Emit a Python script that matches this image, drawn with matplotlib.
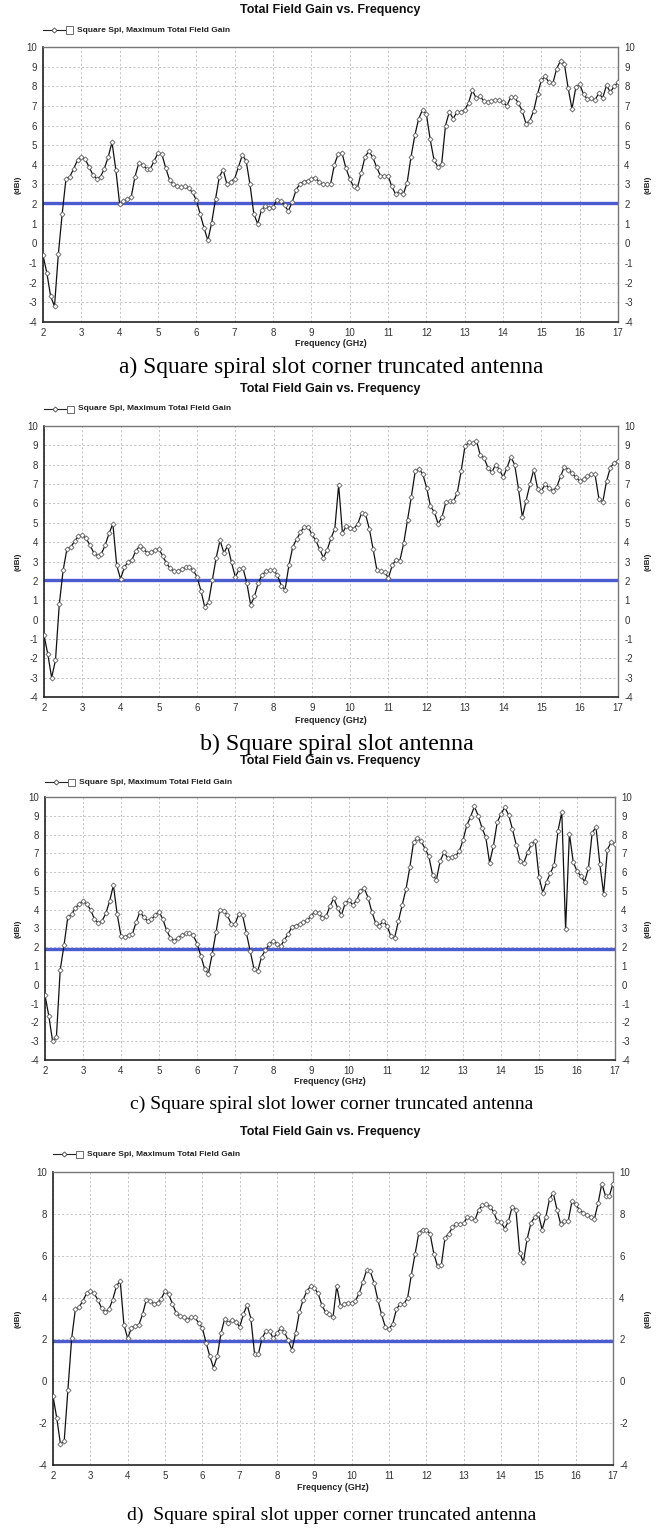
import numpy as np
import matplotlib
matplotlib.use("Agg")
import matplotlib.pyplot as plt
from matplotlib.lines import Line2D
from matplotlib.patches import Rectangle

plt.rcParams["axes.unicode_minus"] = False

# Frequency sweep (GHz), 0.1 GHz steps
freq = np.round(np.arange(2.0, 17.0001, 0.1), 1)

gain_a = [-0.6, -1.5, -2.7, -3.2, -0.55, 1.5, 3.3, 3.4, 3.8, 4.25,
          4.4, 4.3, 3.9, 3.5, 3.3, 3.4, 3.8, 4.4, 5.15, 3.75,
          2.0, 2.15, 2.25, 2.35, 3.4, 4.1, 4.0, 3.8, 3.8, 4.2,
          4.6, 4.55, 3.85, 3.25, 3.0, 2.9, 2.85, 2.9, 2.8, 2.6,
          2.2, 1.5, 0.8, 0.15, 1.05, 2.25, 3.4, 3.75, 3.0, 3.15,
          3.3, 3.9, 4.5, 4.2, 3.0, 1.5, 1.0, 1.7, 1.9, 1.8,
          1.85, 2.2, 2.15, 1.95, 1.65, 2.1, 2.7, 3.05, 3.15, 3.2,
          3.3, 3.35, 3.15, 3.0, 3.0, 3.0, 4.0, 4.55, 4.6, 3.85,
          3.3, 2.9, 2.8, 3.6, 4.4, 4.7, 4.4, 3.9, 3.45, 3.45,
          3.45, 2.9, 2.5, 2.65, 2.5, 3.1, 4.4, 5.5, 6.35, 6.8,
          6.6, 5.3, 4.25, 3.9, 4.05, 6.0, 6.7, 6.35, 6.7, 6.7,
          6.8, 7.15, 7.8, 7.4, 7.5, 7.25, 7.2, 7.25, 7.3, 7.3,
          7.2, 7.0, 7.45, 7.45, 7.15, 6.75, 6.1, 6.25, 6.75, 7.6,
          8.3, 8.5, 8.2, 8.15, 8.9, 9.3, 9.15, 7.9, 6.85, 7.95,
          8.1, 7.6, 7.35, 7.4, 7.3, 7.65, 7.4, 8.05, 7.7, 8.0, 8.2]

gain_b = [-0.8, -1.8, -3.0, -2.1, 0.8, 2.55, 3.65, 3.75, 4.05, 4.3,
          4.35, 4.2, 3.85, 3.45, 3.3, 3.4, 3.85, 4.45, 4.95, 2.8,
          2.1, 2.7, 3.0, 3.1, 3.55, 3.8, 3.65, 3.45, 3.5, 3.6,
          3.65, 3.3, 2.9, 2.65, 2.5, 2.5, 2.6, 2.7, 2.7, 2.55,
          2.2, 1.5, 0.65, 0.9, 2.05, 3.2, 4.1, 3.45, 3.8, 2.95,
          2.2, 2.6, 2.65, 1.9, 0.75, 1.2, 1.9, 2.3, 2.5, 2.55,
          2.55, 2.3, 1.75, 1.55, 2.8, 3.75, 4.15, 4.5, 4.8, 4.8,
          4.4, 4.1, 3.65, 3.2, 3.6, 4.2, 4.7, 6.95, 4.45, 4.85,
          4.75, 4.7, 4.95, 5.5, 5.45, 4.7, 3.65, 2.55, 2.5, 2.45,
          2.15, 2.8, 3.1, 3.05, 3.95, 5.15, 6.35, 7.65, 7.8, 7.5,
          6.8, 5.85, 5.55, 4.95, 5.3, 6.05, 6.1, 6.1, 6.55, 7.65,
          8.95, 9.15, 9.1, 9.25, 8.5, 8.35, 7.85, 7.6, 8.0, 7.75,
          7.35, 7.85, 8.4, 8.0, 6.75, 5.3, 6.15, 7.0, 7.75, 6.75,
          6.65, 7.0, 6.8, 6.65, 6.85, 7.4, 7.9, 7.75, 7.55, 7.35,
          7.15, 7.25, 7.4, 7.5, 7.5, 6.25, 6.05, 7.15, 7.85, 8.1, 8.2]

gain_c = [-0.55, -1.65, -3.0, -2.8, 0.8, 2.1, 3.6, 3.75, 4.1, 4.3,
          4.45, 4.3, 4.0, 3.5, 3.3, 3.4, 3.8, 4.45, 5.3, 3.75,
          2.6, 2.55, 2.65, 2.7, 3.35, 3.9, 3.6, 3.4, 3.5, 3.7,
          3.9, 3.5, 2.9, 2.5, 2.35, 2.5, 2.65, 2.75, 2.75, 2.65,
          2.2, 1.55, 0.85, 0.6, 1.65, 2.8, 4.0, 3.95, 3.7, 3.25,
          3.25, 3.75, 3.7, 2.75, 1.8, 0.85, 0.75, 1.5, 1.85, 2.15,
          2.35, 2.2, 2.05, 2.4, 2.7, 3.1, 3.15, 3.25, 3.35, 3.45,
          3.65, 3.9, 3.85, 3.55, 3.65, 4.2, 4.6, 4.1, 3.7, 4.35,
          4.5, 4.25, 4.5, 5.0, 5.15, 4.65, 3.9, 3.3, 3.15, 3.4,
          3.15, 2.6, 2.5, 3.4, 4.25, 5.1, 6.25, 7.6, 7.8, 7.65,
          7.25, 6.85, 5.85, 5.6, 6.6, 7.05, 6.75, 6.8, 6.85, 7.1,
          7.7, 8.5, 8.95, 9.5, 9.0, 8.35, 7.85, 6.5, 7.4, 8.65,
          9.1, 9.45, 9.05, 8.3, 7.45, 6.6, 6.5, 7.05, 7.5, 7.65,
          5.75, 4.9, 5.5, 5.95, 6.4, 8.2, 9.2, 2.95, 8.05, 6.55,
          6.05, 5.8, 5.5, 6.2, 8.1, 8.4, 6.45, 4.85, 7.2, 7.6, 7.5]

gain_d = [-0.7, -1.75, -3.0, -2.85, -0.4, 2.05, 3.45, 3.55, 3.85, 4.2,
          4.3, 4.2, 3.9, 3.5, 3.3, 3.45, 3.9, 4.55, 4.8, 2.7,
          2.05, 2.55, 2.65, 2.7, 3.2, 3.9, 3.85, 3.7, 3.75, 3.95,
          4.3, 4.15, 3.7, 3.25, 3.1, 3.05, 2.95, 3.05, 3.05, 2.8,
          2.55, 1.85, 1.2, 0.65, 1.2, 2.3, 3.0, 2.8, 2.95, 2.85,
          2.6, 3.2, 3.65, 3.0, 1.3, 1.3, 2.05, 2.4, 2.4, 2.05,
          2.3, 2.55, 2.35, 1.95, 1.5, 2.3, 3.3, 3.9, 4.3, 4.55,
          4.45, 4.2, 3.65, 3.3, 3.2, 3.05, 4.55, 3.6, 3.7, 3.75,
          3.75, 3.85, 4.2, 4.75, 5.3, 5.25, 4.7, 3.9, 3.2, 2.6,
          2.5, 2.75, 3.45, 3.7, 3.7, 4.0, 5.1, 6.1, 7.1, 7.25,
          7.25, 7.05, 6.1, 5.5, 5.55, 6.85, 7.05, 7.35, 7.5, 7.5,
          7.55, 7.85, 7.8, 7.7, 8.2, 8.4, 8.45, 8.35, 8.1, 7.65,
          7.6, 7.3, 7.65, 8.35, 8.2, 6.15, 5.7, 6.8, 7.55, 7.85,
          8.0, 7.25, 7.85, 8.7, 9.0, 8.2, 7.5, 7.65, 7.65, 8.6,
          8.45, 8.2, 8.05, 7.95, 7.85, 7.75, 8.5, 9.45, 8.85, 8.85, 9.45]

ref_levels = [2.07, 2.02, 1.92, 1.93]
captions = ["a) Square spiral slot corner truncated antenna",
            "b) Square spiral slot antenna",
            "c) Square spiral slot lower corner truncated antenna",
            "d)  Square spiral slot upper corner truncated antenna"]
title_text = "Total Field Gain vs. Frequency"
legend_text = "Square Spi, Maximum Total Field Gain"
xlabel_text = "Frequency (GHz)"
ylabel_text = "(dBi)"
xticks = list(range(2, 18))
yticks_fine = list(range(-4, 11))
yticks_coarse = list(range(-4, 11, 2))

W, H = 656, 1537
fig = plt.figure(figsize=(W / 100, H / 100), dpi=100)
fig.patch.set_facecolor("white")

SANS = ["Liberation Sans", "DejaVu Sans"]
SERIF = ["Liberation Serif", "DejaVu Serif"]

# pixel layout: left, right, top, bottom, title_y, legend_y, xlabel_y, caption_y
layouts = [
    (43, 618, 47, 322, 10, 30, 343, 367),
    (44, 618, 426, 697, 389, 409, 721, 744),
    (45, 615, 797, 1060, 761, 782, 1082, 1104),
    (53, 613, 1172, 1465, 1132, 1154, 1487, 1515),
]
caption_sizes = [16.8, 17.3, 14, 14]
caption_x = [0.505, 0.513, 0.505, 0.505]
series = [gain_a, gain_b, gain_c, gain_d]

def fy(y):
    return 1 - y / H

for i, (gain, lay) in enumerate(zip(series, layouts)):
    l, r, t, b, ty, ly, xly, cy = lay
    ax = fig.add_axes([l / W, 1 - b / H, (r - l) / W, (b - t) / H])
    ax.set_xlim(2, 17)
    ax.set_ylim(-4, 10)
    ax.set_xticks(xticks)
    ax.set_yticks(yticks_coarse if i == 3 else yticks_fine)
    ax.grid(True, color="#c4c4c4", linestyle=(0, (2.2, 2.2)), linewidth=0.7)
    ax.set_axisbelow(True)
    ax.tick_params(axis="both", length=0, labelsize=7, colors="#333333")
    ax.tick_params(axis="y", pad=4.5, right=True, labelright=True)
    ax.tick_params(axis="x", pad=4.5)
    for lab in ax.get_xticklabels() + ax.get_yticklabels():
        lab.set_fontfamily(SANS)
    for s in ["left", "bottom"]:
        ax.spines[s].set_color("#222222")
        ax.spines[s].set_linewidth(1.2)
    for s in ["top", "right"]:
        ax.spines[s].set_color("#777777")
        ax.spines[s].set_linewidth(1.0)
    ax.axhline(ref_levels[i], color="#4b5bd0", linewidth=2.4, zorder=2)
    ax.plot(freq, gain, color="#111111", linewidth=0.9, marker="D",
            markersize=2.6, markerfacecolor="white", markeredgecolor="#555555",
            markeredgewidth=0.55, zorder=3)

    fig.text(0.503, fy(ty), title_text, ha="center", va="center",
             fontsize=9, fontweight="bold", family=SANS, color="#111111")
    # legend sample
    lx0 = l / W
    fig.add_artist(Line2D([lx0, lx0 + 22 / W], [fy(ly), fy(ly)], color="#222222",
                          linewidth=0.8, transform=fig.transFigure))
    fig.add_artist(Line2D([lx0 + 11 / W], [fy(ly)], marker="D",
                          markersize=2.6, markerfacecolor="white",
                          markeredgecolor="#444444", markeredgewidth=0.6,
                          linestyle="none", transform=fig.transFigure))
    fig.add_artist(Rectangle((lx0 + 23 / W, fy(ly) - 3.5 / H), 7 / W, 7 / H,
                             fill=False, edgecolor="#555555", linewidth=0.6,
                             transform=fig.transFigure))
    fig.text(lx0 + 34 / W, fy(ly), legend_text, ha="left", va="center",
             fontsize=6, fontweight="bold", family=SANS, color="#222222")
    fig.text((l + r) / 2 / W, fy(xly), xlabel_text, ha="center", va="center",
             fontsize=6.4, fontweight="bold", family=SANS, color="#222222")
    ymid = fy((t + b) / 2)
    fig.text(18 / W, ymid, ylabel_text, ha="center", va="center", rotation=90,
             fontsize=5.8, fontweight="bold", family=SANS, color="#222222")
    fig.text(648 / W, ymid, ylabel_text, ha="center", va="center", rotation=90,
             fontsize=5.8, fontweight="bold", family=SANS, color="#222222")
    fig.text(caption_x[i], fy(cy), captions[i], ha="center", va="center",
             fontsize=caption_sizes[i], family=SERIF, color="black")

fig.savefig("out.png", dpi=100, facecolor="white")
